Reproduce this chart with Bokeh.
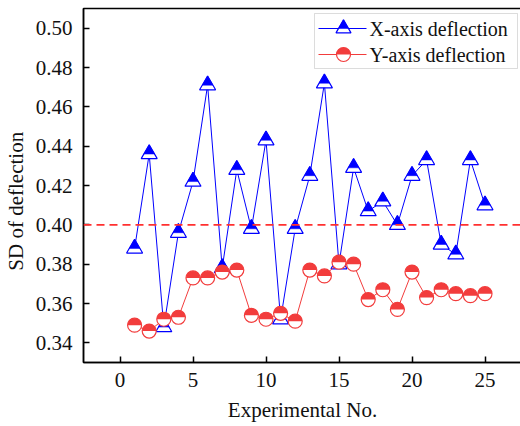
import math
from bokeh.plotting import figure
from bokeh.models import (Range1d, Span, SingleIntervalTicker, PrintfTickFormatter,
                          BoxAnnotation, Label)
from bokeh.embed import file_html
from bokeh.resources import INLINE

# ---------------- data ----------------
experiment_no = list(range(1, 26))
x_deflection = [0.388, 0.436, 0.348, 0.396, 0.422, 0.471, 0.378, 0.428, 0.398, 0.443,
                0.352, 0.398, 0.425, 0.472, 0.380, 0.429, 0.407, 0.412, 0.400, 0.425,
                0.433, 0.390, 0.385, 0.433, 0.410]
y_deflection = [0.349, 0.346, 0.352, 0.353, 0.373, 0.373, 0.376, 0.377, 0.354, 0.352,
                0.355, 0.351, 0.377, 0.374, 0.381, 0.380, 0.362, 0.367, 0.357, 0.376,
                0.363, 0.367, 0.365, 0.364, 0.365]
threshold = 0.40
series_labels = ["X-axis deflection", "Y-axis deflection"]
x_title = "Experimental No."
y_title = "SD of deflection"

# ---------------- styling ----------------
BLUE = "#0000FF"
RED = "#F23C3C"
FONT = "Liberation Serif"
FS = "21px"
X0, X1 = -2.5, 27.5
Y0, Y1 = 0.33, 0.51
FW, FH = 438, 354
TRI = 16
CIR = 14

p = figure(width=520, height=426, frame_width=FW, frame_height=FH,
           x_range=Range1d(X0, X1), y_range=Range1d(Y0, Y1),
           output_backend="svg", toolbar_location=None,
           min_border_left=80, min_border_right=2, min_border_top=8, min_border_bottom=64)
p.grid.visible = False
p.outline_line_color = "black"
p.outline_line_width = 1.5
p.background_fill_color = "white"
p.border_fill_color = "white"

for ax in (p.xaxis[0], p.yaxis[0]):
    ax.axis_line_width = 1.5
    ax.major_tick_in = 6
    ax.major_tick_out = 0
    ax.major_tick_line_width = 1.5
    ax.minor_tick_line_color = None
    ax.major_label_text_font = FONT
    ax.major_label_text_font_size = FS
    ax.major_label_text_color = "#111111"
    ax.axis_label_text_font = FONT
    ax.axis_label_text_font_size = FS
    ax.axis_label_text_font_style = "normal"
    ax.axis_label_text_color = "#111111"

p.xaxis.ticker = SingleIntervalTicker(interval=5)
p.yaxis.ticker = SingleIntervalTicker(interval=0.02)
p.yaxis.formatter = PrintfTickFormatter(format="%.2f")
p.xaxis.axis_label = x_title
# trailing no-break spaces push the rotated title slightly below centre, as in the original
p.yaxis.axis_label = y_title + "\u00a0" * 6
p.xaxis.major_label_standoff = 6
p.yaxis.major_label_standoff = 7
p.xaxis.axis_label_standoff = 8
p.yaxis.axis_label_standoff = 5

p.add_layout(Span(location=threshold, dimension="width", line_color="#FF3030",
                  line_dash="8 5", line_width=1.8))

# conversions for marker half-fill offset and legend placement
ppu_y = FH / (Y1 - Y0)
def px_to_x(px):
    return X0 + px / FW * (X1 - X0)
def py_to_y(py):
    return Y1 - py / FH * (Y1 - Y0)

def draw_tri(xs, ys, size):
    h = size / 2 * math.sqrt(3)
    dy = (2 * h / 9) / ppu_y
    p.scatter(xs, ys, marker="triangle", size=size, fill_color="white",
              line_color=BLUE, line_width=1.2)
    p.scatter(xs, [v + dy for v in ys], marker="triangle", size=size * 2 / 3,
              fill_color=BLUE, line_color=BLUE, line_width=0.5)

def draw_cir(xs, ys, size):
    p.scatter(xs, ys, marker="circle", size=size, fill_color="white", line_color=None)
    p.wedge(xs, ys, radius=size / 2, radius_units="screen", start_angle=0,
            end_angle=math.pi, fill_color=RED, line_color=None)
    p.scatter(xs, ys, marker="circle", size=size, fill_color=None,
              line_color=RED, line_width=1.2)

# X series
p.line(experiment_no, x_deflection, line_color=BLUE, line_width=1)
draw_tri(experiment_no, x_deflection, TRI)
# Y series
p.line(experiment_no, y_deflection, line_color=RED, line_width=1)
draw_cir(experiment_no, y_deflection, CIR)

# ---------------- legend (manual, for half-filled symbols) ----------------
box = BoxAnnotation(left=px_to_x(231), right=px_to_x(434), top=py_to_y(5), bottom=py_to_y(60),
                    fill_color="white", fill_alpha=1.0, line_color="#8a8a8a", line_width=1,
                    level="underlay")
p.add_layout(box)
rows = [20, 46]
lx0, lx1, lmx, ltx = px_to_x(235), px_to_x(283), px_to_x(260), px_to_x(286)
ry = [py_to_y(r) for r in rows]
p.line([lx0, lx1], [ry[0], ry[0]], line_color=BLUE, line_width=1)
draw_tri([lmx], [ry[0]], TRI - 1)
p.line([lx0, lx1], [ry[1], ry[1]], line_color=RED, line_width=1)
draw_cir([lmx], [ry[1]], CIR)
for lab, yy in zip(series_labels, ry):
    p.add_layout(Label(x=ltx, y=yy, text=lab, text_baseline="middle", text_align="left",
                       text_font=FONT, text_font_size="20px", text_color="#111111"))

open("out.html", "w").write(file_html(p, INLINE))
